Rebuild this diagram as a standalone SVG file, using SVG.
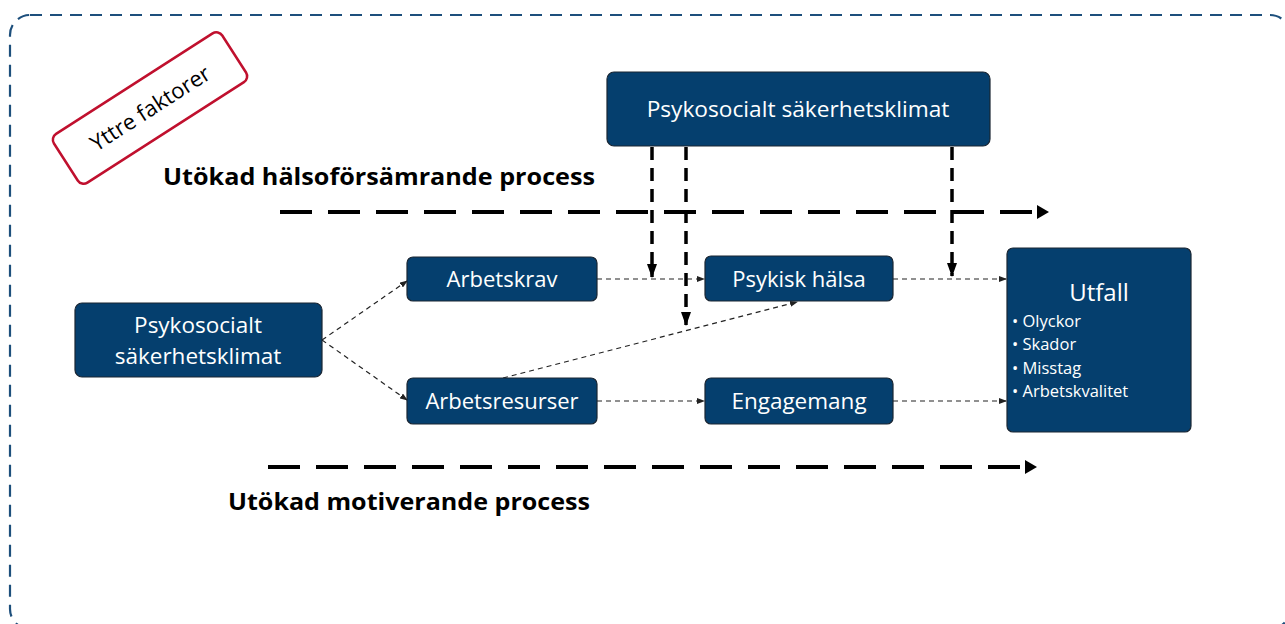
<svg xmlns="http://www.w3.org/2000/svg" width="1285" height="624" viewBox="0 0 1285 624">
<defs>
<style>
.node rect{fill:#053f6e;stroke:#1a2633;stroke-width:1.2}
.nt{font-family:"Open Sans","Noto Sans",sans-serif;fill:#ffffff;text-anchor:middle}
.bl{font-family:"Open Sans","Noto Sans",sans-serif;fill:#ffffff;text-anchor:start;font-size:16.5px}
.thin{stroke:#222;stroke-width:1.2;stroke-dasharray:5 4;fill:none}
.thick{stroke:#000;stroke-width:3.5;stroke-dasharray:13 8;fill:none}
.proc{stroke:#000;stroke-width:4;stroke-dasharray:32 16;fill:none}
.lbl{font-family:"Open Sans","Noto Sans",sans-serif;font-weight:bold;fill:#000}
</style>
<marker id="sa" markerWidth="8" markerHeight="6" refX="7" refY="3" orient="auto" markerUnits="userSpaceOnUse">
<path d="M0,0 L8,3 L0,6 Z" fill="#222"/>
</marker>
<marker id="ba" markerWidth="12" markerHeight="14" refX="11" refY="7" orient="auto" markerUnits="userSpaceOnUse">
<path d="M0,0 L12,7 L0,14 Z" fill="#000"/>
</marker>
<marker id="va" markerWidth="14" markerHeight="10" refX="13" refY="5" orient="auto" markerUnits="userSpaceOnUse">
<path d="M0,0 L14,5 L0,10 Z" fill="#000"/>
</marker>
</defs>
<rect width="1285" height="624" fill="#fff"/>
<rect x="10" y="15" width="1280" height="614" rx="20" fill="none" stroke="#1d4f7c" stroke-width="2.2" stroke-dasharray="12 8"/>

<g id="yttre">
<g transform="translate(150 108) rotate(-32.7)">
<rect x="-100" y="-29" width="200" height="58" rx="7" fill="#fff" stroke="#c0102e" stroke-width="2.5"/>
<text x="0" y="8" font-family="'Open Sans','Noto Sans',sans-serif" font-size="22" text-anchor="middle" fill="#000">Yttre faktorer</text>
</g>
</g>

<g id="labels">
<text class="lbl" x="163" y="185" font-size="24" textLength="432" lengthAdjust="spacingAndGlyphs">Utökad hälsoförsämrande process</text>
<text class="lbl" x="228" y="510" font-size="24" textLength="362" lengthAdjust="spacingAndGlyphs">Utökad motiverande process</text>
</g>

<g id="connectors">
<line class="proc" x1="280" y1="212" x2="1048" y2="212" marker-end="url(#ba)"/>
<line class="proc" x1="268" y1="467" x2="1036" y2="467" marker-end="url(#ba)"/>
<line class="thick" x1="652" y1="147" x2="652" y2="277" marker-end="url(#va)"/>
<line class="thick" x1="686" y1="147" x2="686" y2="325" marker-end="url(#va)"/>
<line class="thick" x1="952" y1="147" x2="952" y2="276" marker-end="url(#va)"/>
<line class="thin" x1="322" y1="340" x2="407" y2="281" marker-end="url(#sa)"/>
<line class="thin" x1="322" y1="340" x2="407" y2="400" marker-end="url(#sa)"/>
<line class="thin" x1="597" y1="279" x2="704" y2="279" marker-end="url(#sa)"/>
<line class="thin" x1="597" y1="401" x2="704" y2="401" marker-end="url(#sa)"/>
<line class="thin" x1="503" y1="378" x2="797" y2="302" marker-end="url(#sa)"/>
<line class="thin" x1="893" y1="279" x2="1006" y2="279" marker-end="url(#sa)"/>
<line class="thin" x1="893" y1="401" x2="1006" y2="401" marker-end="url(#sa)"/>
</g>

<g id="top-climate" class="node">
<rect x="607" y="72" width="383" height="74" rx="7"/>
<text class="nt" x="798" y="117" font-size="22.7">Psykosocialt säkerhetsklimat</text>
</g>
<g id="left-climate" class="node">
<rect x="75" y="303" width="247" height="74" rx="7"/>
<text class="nt" x="198" y="333" font-size="22.5">Psykosocialt</text>
<text class="nt" x="198" y="364" font-size="22.5">säkerhetsklimat</text>
</g>
<g id="arbetskrav" class="node">
<rect x="407" y="257" width="190" height="44" rx="6"/>
<text class="nt" x="502" y="287" font-size="22">Arbetskrav</text>
</g>
<g id="arbetsresurser" class="node">
<rect x="407" y="378" width="190" height="46" rx="6"/>
<text class="nt" x="502" y="409" font-size="22">Arbetsresurser</text>
</g>
<g id="psykisk" class="node">
<rect x="705" y="256" width="188" height="45" rx="6"/>
<text class="nt" x="799" y="287" font-size="22">Psykisk hälsa</text>
</g>
<g id="engagemang" class="node">
<rect x="705" y="378" width="188" height="46" rx="6"/>
<text class="nt" x="799" y="409" font-size="22.5">Engagemang</text>
</g>
<g id="utfall" class="node">
<rect x="1007" y="248" width="184" height="184" rx="6"/>
<text class="nt" x="1099" y="301" font-size="24">Utfall</text>
<text class="bl" x="1012" y="327">• Olyckor</text>
<text class="bl" x="1012" y="350">• Skador</text>
<text class="bl" x="1012" y="374">• Misstag</text>
<text class="bl" x="1012" y="397">• Arbetskvalitet</text>
</g>
</svg>
